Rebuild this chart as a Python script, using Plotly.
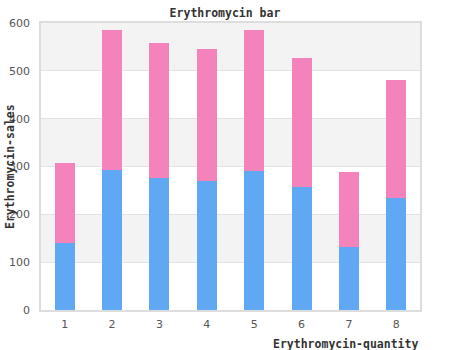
import plotly.graph_objects as go

# Stacked sales per quantity bucket
categories = ["1", "2", "3", "4", "5", "6", "7", "8"]
base_sales = [140, 292, 277, 270, 291, 257, 132, 235]
extra_sales = [168, 294, 282, 276, 295, 270, 157, 246]
y_ticks = [0, 100, 200, 300, 400, 500, 600]

BLUE = "#60A8F4"
PINK = "#F383BA"
MONO = "DejaVu Sans Mono"

fig = go.Figure()
fig.add_trace(go.Bar(x=categories, y=base_sales, marker=dict(color=BLUE, line=dict(width=0)),
                     width=0.42, showlegend=False))
fig.add_trace(go.Bar(x=categories, y=extra_sales, marker=dict(color=PINK, line=dict(width=0)),
                     width=0.42, showlegend=False))

# alternating background bands between the gridlines
for i in range(len(y_ticks) - 1):
    if (len(y_ticks) - 2 - i) % 2 == 0:
        fig.add_shape(type="rect", xref="paper", yref="y", x0=0, x1=1,
                      y0=y_ticks[i], y1=y_ticks[i + 1],
                      fillcolor="#F3F3F3", line=dict(width=0), layer="below")

fig.update_layout(
    width=450, height=350,
    margin=dict(l=41, r=30, t=23, b=40, autoexpand=False),
    barmode="stack",
    bargap=0.58,
    plot_bgcolor="white",
    paper_bgcolor="white",
    title=dict(text="Erythromycin bar", x=0.5, xanchor="center", y=1 - 13 / 350, yanchor="middle",
               font=dict(family=MONO, size=11.5, color="#333333", weight="bold")),
    xaxis=dict(type="category", showgrid=False, showline=True, linecolor="#DDDDDD", linewidth=1.5,
               mirror=True, ticks="", ticklabelstandoff=3, automargin=False,
               tickfont=dict(family="DejaVu Sans", size=11, color="#555555")),
    yaxis=dict(range=[0, 600], tickvals=y_ticks, showgrid=True, gridcolor="#E2E2E2", gridwidth=1,
               showline=True, linecolor="#DDDDDD", linewidth=1.5, mirror=True, zeroline=False,
               ticks="", ticklabelstandoff=7, automargin=False,
               tickfont=dict(family="DejaVu Sans", size=11, color="#555555")),
    annotations=[
        dict(text="Erythromycin-sales", xref="paper", yref="paper", x=-(41 - 10) / 379, y=(310 - 167) / 287,
             xanchor="center", yanchor="middle", textangle=-90, showarrow=False,
             font=dict(family=MONO, size=11.5, color="#333333", weight="bold")),
        dict(text="Erythromycin-quantity", xref="paper", yref="paper", x=1, y=-(344 - 310) / 287,
             xanchor="right", yanchor="middle", showarrow=False,
             font=dict(family=MONO, size=11.5, color="#333333", weight="bold")),
    ],
)

fig.write_html("out.html")
